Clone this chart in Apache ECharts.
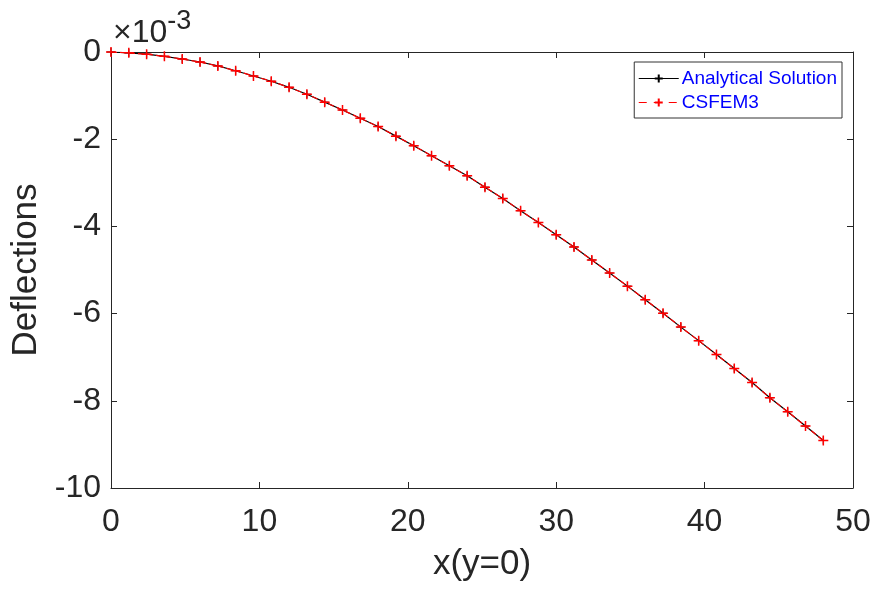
<!DOCTYPE html>
<html>
<head>
<meta charset="utf-8">
<script src="https://cdn.jsdelivr.net/npm/echarts@6/dist/echarts.min.js"></script>
<style>
    html, body { margin: 0; padding: 0; background: #fff; }
    #chart { width: 876px; height: 589px; }
</style>
</head>
<body>
<div id="chart"></div>
<script>
    // x positions along y = 0
    const xValues = [0, 1.2, 2.4, 3.6, 4.8, 6, 7.2, 8.4, 9.6, 10.8, 12, 13.2, 14.4, 15.6, 16.8, 18, 19.2, 20.4,
        21.6, 22.8, 24, 25.2, 26.4, 27.6, 28.8, 30, 31.2, 32.4, 33.6, 34.8, 36, 37.2, 38.4, 39.6, 40.8, 42,
        43.2, 44.4, 45.6, 46.8, 48]
    // deflections, in units of 1e-3
    const analytical = [0, -0.02, -0.05, -0.10, -0.16, -0.23, -0.32, -0.43, -0.55, -0.67, -0.81, -0.97, -1.15,
        -1.33, -1.52, -1.71, -1.93, -2.15, -2.38, -2.61, -2.84, -3.10, -3.36, -3.64, -3.91, -4.19, -4.47,
        -4.77, -5.07, -5.37, -5.68, -5.99, -6.31, -6.62, -6.94, -7.26, -7.58, -7.93, -8.25, -8.58, -8.91]
    const csfem3 = [0, -0.02, -0.05, -0.10, -0.16, -0.23, -0.32, -0.43, -0.55, -0.67, -0.81, -0.97, -1.15,
        -1.33, -1.52, -1.71, -1.93, -2.15, -2.38, -2.61, -2.84, -3.10, -3.36, -3.64, -3.91, -4.19, -4.47,
        -4.77, -5.07, -5.37, -5.68, -5.99, -6.31, -6.62, -6.94, -7.26, -7.58, -7.93, -8.25, -8.58, -8.91]
    const seriesNames = ['Analytical Solution', 'CSFEM3']

    const plus = 'path://M0,5L10,5M5,0L5,10'
    const font = 'Liberation Sans, Arial, sans-serif'

    const myChart = echarts.init(document.getElementById('chart'))

    const pairs = (ys) => xValues.map((x, i) => [x, ys[i]])

    const baseAxis = {
        axisLine: { show: true, onZero: false, lineStyle: { color: '#262626', width: 1 } },
        axisTick: { show: true, inside: true, length: 6, lineStyle: { color: '#262626' } },
        splitLine: { show: false }
    }

    myChart.setOption({
        animation: false,
        backgroundColor: '#fff',
        grid: { left: 111, right: 23, top: 52, bottom: 101 },
        legend: {
            right: 34,
            top: 62,
            orient: 'vertical',
            backgroundColor: '#fff',
            borderColor: '#333',
            borderWidth: 1,
            borderRadius: 0,
            padding: [7, 5, 6, 4],
            itemGap: 5,
            itemWidth: 40,
            itemHeight: 10,
            textStyle: { color: '#0000ff', fontFamily: font, fontSize: 19, padding: [0, 0, 0, -2] },
            data: [
                { name: seriesNames[0], lineStyle: { width: 1 } },
                { name: seriesNames[1], lineStyle: { width: 1, type: [8, 7] } }
            ]
        },
        graphic: [{
            type: 'text',
            left: 113,
            top: 8,
            style: {
                text: '{a|×10}{b|-3}',
                rich: {
                    a: { fontFamily: font, fontSize: 32, fill: '#262626', verticalAlign: 'bottom' },
                    b: { fontFamily: font, fontSize: 27, fill: '#262626', verticalAlign: 'top', padding: [0, 0, 14, 0] }
                }
            }
        }],
        xAxis: [{
            ...baseAxis,
            type: 'value',
            min: 0,
            max: 50,
            interval: 10,
            name: 'x(y=0)',
            nameLocation: 'middle',
            nameGap: 59,
            nameTextStyle: { fontFamily: font, fontSize: 35, color: '#262626' },
            axisLabel: { fontFamily: font, fontSize: 32, color: '#262626', margin: 18 }
        }, {
            ...baseAxis,
            type: 'value',
            position: 'top',
            min: 0,
            max: 50,
            interval: 10,
            axisLabel: { show: false }
        }],
        yAxis: [{
            ...baseAxis,
            type: 'value',
            min: -10,
            max: 0,
            interval: 2,
            name: 'Deflections',
            nameLocation: 'middle',
            nameGap: 64,
            nameTextStyle: { fontFamily: font, fontSize: 35, color: '#262626' },
            axisLabel: { fontFamily: font, fontSize: 32, color: '#262626', margin: 10 }
        }, {
            ...baseAxis,
            type: 'value',
            position: 'right',
            min: -10,
            max: 0,
            interval: 2,
            axisLabel: { show: false }
        }],
        series: [{
            name: seriesNames[0],
            type: 'line',
            data: pairs(analytical),
            symbol: plus,
            symbolSize: 8,
            showAllSymbol: true,
            lineStyle: { color: '#000', width: 1.2 },
            itemStyle: { color: '#000', borderColor: '#000', borderWidth: 1 },
            z: 2
        }, {
            name: seriesNames[1],
            type: 'line',
            data: pairs(csfem3),
            symbol: plus,
            symbolSize: 10,
            showAllSymbol: true,
            lineStyle: { color: '#ff0000', width: 1.2, type: [6, 3] },
            itemStyle: { color: '#ff0000', borderColor: '#ff0000', borderWidth: 1.5 },
            z: 3
        }]
    })
</script>
</body>
</html>
